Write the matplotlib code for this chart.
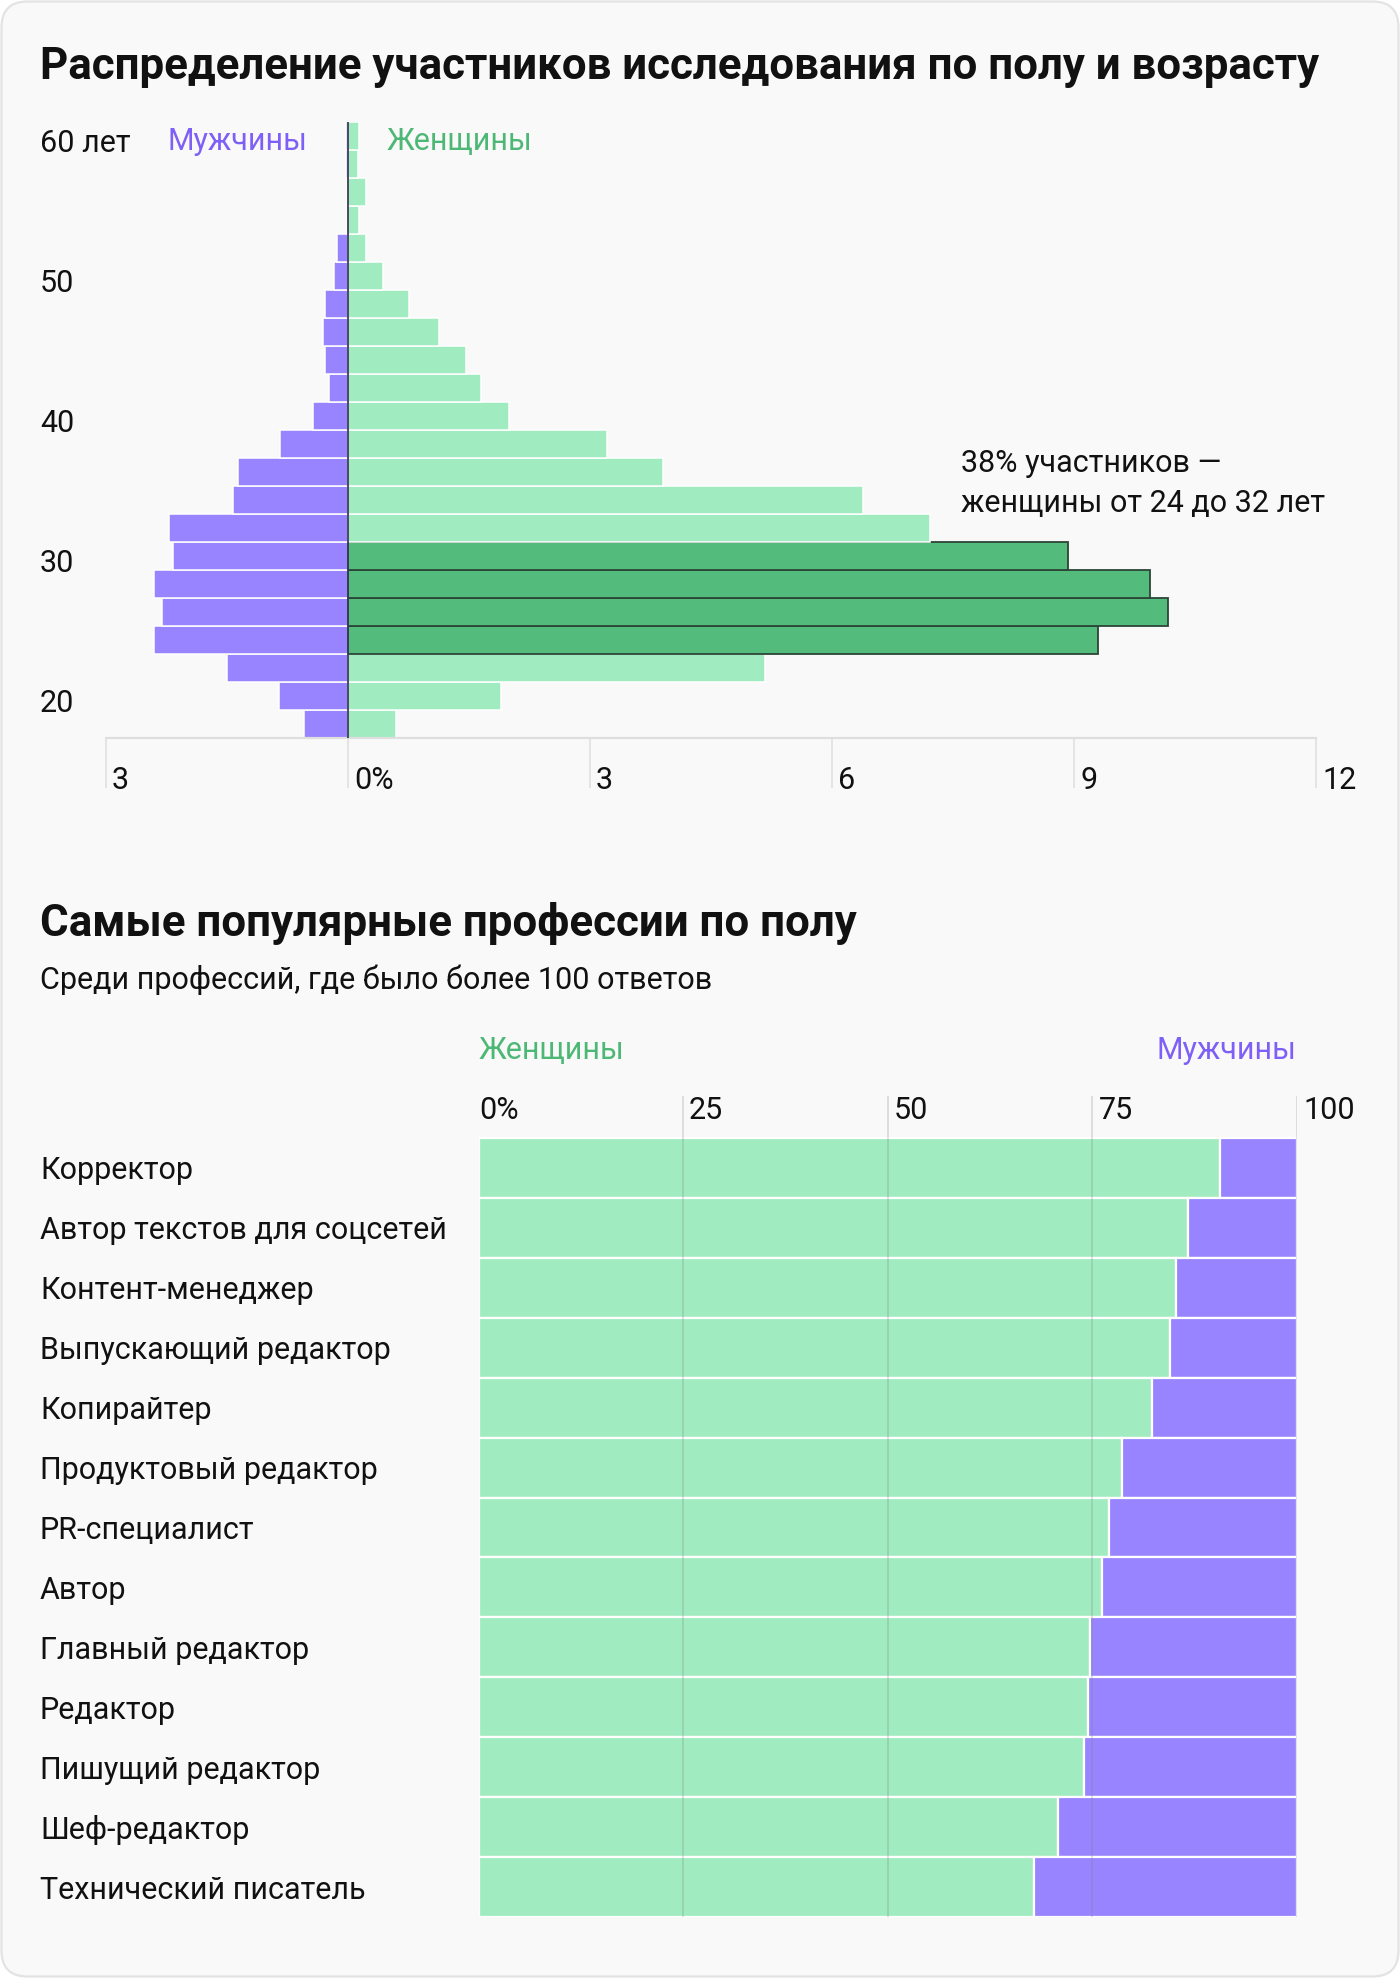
import matplotlib
matplotlib.use("Agg")
import matplotlib.pyplot as plt
from matplotlib.patches import FancyBboxPatch
import matplotlib.transforms as mtransforms

plt.rcParams['font.family'] = ['Roboto', 'DejaVu Sans']

# ---------------- data ----------------
ages = [18, 20, 22, 24, 26, 28, 30, 32, 34, 36, 38, 40, 42, 44, 46, 48, 50, 52, 54, 56, 58, 60]
women_pct = [0.59, 1.90, 5.17, 9.30, 10.17, 9.94, 8.93, 7.21, 6.39, 3.91, 3.21, 2.00,
             1.65, 1.46, 1.13, 0.76, 0.44, 0.22, 0.14, 0.22, 0.12, 0.14]
men_pct = [0.54, 0.86, 1.50, 2.40, 2.30, 2.40, 2.17, 2.22, 1.43, 1.36, 0.84, 0.44,
           0.24, 0.29, 0.31, 0.29, 0.17, 0.14, 0.01, 0.01, 0.03, 0.03]
highlight_ages = [24, 26, 28, 30]
age_labels = {60: "60 лет", 50: "50", 40: "40", 30: "30", 20: "20"}
x_ticks_top = [-3, 0, 3, 6, 9, 12]
x_tick_labels_top = ["3", "0%", "3", "6", "9", "12"]

professions = ["Корректор", "Автор текстов для соцсетей", "Контент-менеджер",
               "Выпускающий редактор", "Копирайтер", "Продуктовый редактор",
               "PR-специалист", "Автор", "Главный редактор", "Редактор",
               "Пишущий редактор", "Шеф-редактор", "Технический писатель"]
women_share = [90.6, 86.7, 85.2, 84.5, 82.3, 78.6, 77.0, 76.2, 74.7, 74.5, 74.0, 70.8, 67.9]
x_ticks_bottom = [0, 25, 50, 75, 100]
x_tick_labels_bottom = ["0%", "25", "50", "75", "100"]

# ---------------- style ----------------
BG = "#f9f9f9"
PURPLE = "#9784fe"
GREEN_L = "#a0ecc0"
GREEN_D = "#53bb7c"
TXT_PURPLE = "#7e60f6"
TXT_GREEN = "#4db875"
TXT = "#111111"
FS = 22
FT = 31.6
W, H = 1400, 1978

fig = plt.figure(figsize=(W / 100, H / 100), dpi=100)
fig.patch.set_facecolor("white")
bg = FancyBboxPatch((0.015, 0.015), W / 100 - 0.03, H / 100 - 0.03,
                    boxstyle="round,pad=0,rounding_size=0.26",
                    transform=fig.dpi_scale_trans, facecolor=BG,
                    edgecolor="#e3e3e3", linewidth=1.6, zorder=-10)
fig.patches.append(bg)


def fx(px):
    return px / W


def fy(py):
    return 1 - py / H


# ---------------- top chart ----------------
ax_left, ax_right = 106, 1316
ax_top, ax_bot = 122, 738
ax1 = fig.add_axes([fx(ax_left), fy(ax_bot), (ax_right - ax_left) / W, (ax_bot - ax_top) / H])
ax1.set_facecolor("none")
ax1.set_xlim(-3, 12)
ax1.set_ylim(17, 61)

ax1.barh(ages, [-m for m in men_pct], height=2, color=PURPLE, edgecolor="white",
         linewidth=1.1, zorder=2)
w_colors = [GREEN_D if a in highlight_ages else GREEN_L for a in ages]
w_edges = ["#2b4537" if a in highlight_ages else "white" for a in ages]
w_lw = [1.3 if a in highlight_ages else 1.1 for a in ages]
ax1.barh(ages, women_pct, height=2, color=w_colors, edgecolor=w_edges,
         linewidth=w_lw, zorder=2)
ax1.axvline(0, color="#3c3a55", linewidth=1.3, zorder=5)

for s in ["top", "right", "left"]:
    ax1.spines[s].set_visible(False)
ax1.spines["bottom"].set_color("#dedede")
ax1.spines["bottom"].set_linewidth(1.6)
ax1.set_yticks([])
ax1.set_xticks(x_ticks_top)
ax1.tick_params(axis="x", length=36, width=1.1, color="#dedede", labelbottom=False)

trans_lbl = mtransforms.blended_transform_factory(ax1.transData, fig.transFigure)
off = mtransforms.offset_copy(trans_lbl, fig=fig, x=6, y=0, units="dots")
for t, l in zip(x_ticks_top, x_tick_labels_top):
    ax1.text(t, fy(780.5), l, transform=off, ha="left", va="center", fontsize=FS, color=TXT)

trans_y = mtransforms.blended_transform_factory(fig.transFigure, ax1.transData)
for a, l in age_labels.items():
    ax1.text(fx(40), a - 0.5, l, transform=trans_y, ha="left", va="center",
             fontsize=FS, color=TXT)

fig.text(fx(307), fy(141.5), "Мужчины", ha="right", va="center", fontsize=FS, color=TXT_PURPLE)
fig.text(fx(387), fy(141.5), "Женщины", ha="left", va="center", fontsize=FS, color=TXT_GREEN)
fig.text(fx(961), fy(464), "38% участников —", ha="left", va="center", fontsize=FS, color=TXT)
fig.text(fx(961), fy(503), "женщины от 24 до 32 лет", ha="left", va="center", fontsize=FS, color=TXT)

fig.text(fx(40), fy(66.5), "Распределение участников исследования по полу и возрасту",
         ha="left", va="center", fontsize=FT, fontweight="bold", color=TXT)

# ---------------- bottom chart ----------------
b_left, b_right = 478.5, 1297
b_top, b_bars_top, b_bot = 1096, 1138, 1917
n = len(professions)
bar_px = (b_bot - b_bars_top) / n
ax2 = fig.add_axes([fx(b_left), fy(b_bot), (b_right - b_left) / W, (b_bot - b_top) / H])
ax2.set_facecolor("none")
ax2.set_xlim(0, 100)
ax2.set_ylim(n - 0.5, -0.5 - (b_bars_top - b_top) / bar_px)
ys = list(range(n))
men_share = [100 - w for w in women_share]
ax2.barh(ys, women_share, height=1, color=GREEN_L, edgecolor="white", linewidth=1.6, zorder=2)
ax2.barh(ys, men_share, left=women_share, height=1, color=PURPLE, edgecolor="white",
         linewidth=1.6, zorder=2)
for t in x_ticks_bottom[1:]:
    ax2.axvline(t, color="#808080", alpha=0.3, linewidth=1.1, zorder=3)
for s in ax2.spines.values():
    s.set_visible(False)
ax2.set_xticks([])
ax2.set_yticks([])

trans_b = mtransforms.blended_transform_factory(ax2.transData, fig.transFigure)
for t, l in zip(x_ticks_bottom, x_tick_labels_bottom):
    o = mtransforms.offset_copy(trans_b, fig=fig, x=(1 if t == 0 else 6), y=0, units="dots")
    ax2.text(t, fy(1110.5), l, transform=o, ha="left", va="center", fontsize=FS, color=TXT)

trans_y2 = mtransforms.blended_transform_factory(fig.transFigure, ax2.transData)
for i, p in enumerate(professions):
    ax2.text(fx(40), i + 0.05, p, transform=trans_y2, ha="left", va="center",
             fontsize=FS, color=TXT)

fig.text(fx(479), fy(1050.5), "Женщины", ha="left", va="center", fontsize=FS, color=TXT_GREEN)
fig.text(fx(1296), fy(1050.5), "Мужчины", ha="right", va="center", fontsize=FS, color=TXT_PURPLE)
fig.text(fx(40), fy(923.5), "Самые популярные профессии по полу", ha="left", va="center",
         fontsize=FT, fontweight="bold", color=TXT)
fig.text(fx(40), fy(979.5), "Среди профессий, где было более 100 ответов", ha="left",
         va="center", fontsize=FS, color=TXT)

fig.savefig("out.png", dpi=100, facecolor=fig.get_facecolor())
